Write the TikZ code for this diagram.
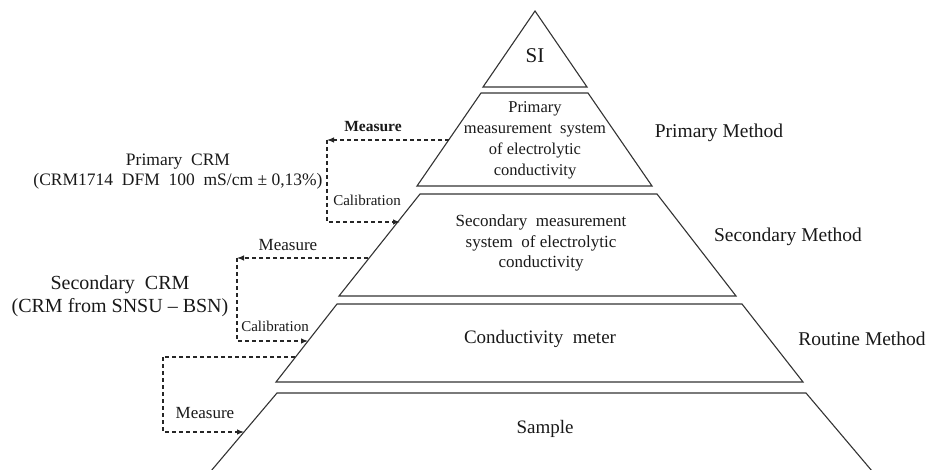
\documentclass[tikz,border=0pt]{standalone}
\usepackage{fontspec}
\setmainfont{Liberation Serif}
\usetikzlibrary{arrows.meta,calc}
\newcommand{\fs}[1]{\fontsize{#1}{#1}\selectfont}
\begin{document}
\begin{tikzpicture}[x=1pt,y=-1pt,
  edge/.style={draw=black!80, line width=1.1pt, line join=miter},
  conn/.style={draw=black!85, line width=1.1pt, dash pattern=on 4pt off 3pt},
  arr/.style={conn, -{Latex[length=7pt,width=5.5pt,fill=black!85]}},
  lbl/.style={inner sep=0pt, align=center, text=black!90},
]
\useasboundingbox (0,0) rectangle (931,470);
% --- pyramid levels ---
\coordinate (siA) at (535,11);
\coordinate (siL) at (483,87);
\coordinate (siR) at (587,87);
\draw[edge] (siA) -- (siL) -- (siR) -- cycle;

\coordinate (p1) at (481,93);  \coordinate (p2) at (588,93);
\coordinate (p3) at (652,186); \coordinate (p4) at (417,186);
\draw[edge] (p1) -- (p2) -- (p3) -- (p4) -- cycle;

\coordinate (s1) at (420,194); \coordinate (s2) at (657,194);
\coordinate (s3) at (736,296); \coordinate (s4) at (339,296);
\draw[edge] (s1) -- (s2) -- (s3) -- (s4) -- cycle;

\coordinate (r1) at (337,304); \coordinate (r2) at (742,304);
\coordinate (r3) at (803,382); \coordinate (r4) at (276,382);
\draw[edge] (r1) -- (r2) -- (r3) -- (r4) -- cycle;

\coordinate (a1) at (277,393); \coordinate (a2) at (806,393);
\coordinate (a3) at (872,471); \coordinate (a4) at (211,471);
\draw[edge] (a4) -- (a1) -- (a2) -- (a3);

% --- texts inside ---
\node[lbl] (si) at (535,56) {\fs{21}SI};
\node[lbl, font=\fs{16.5}] (prim) at (535,140) {%
  Primary\\[4.5pt] measurement\ \ system\\[4.5pt] of electrolytic\\[4.5pt] conductivity};
\node[lbl, font=\fs{17}] (sec) at (541,243) {%
  Secondary\ \ measurement\\[3.5pt] system\ \ of electrolytic\\[3.5pt] conductivity};
\node[lbl] (cm) at (540,339) {\fs{19}Conductivity\ \ meter};
\node[lbl] (sample) at (545,429) {\fs{19}Sample};

% --- right labels ---
\node[lbl] (pmeth) at (719,133) {\fs{19.5}Primary Method};
\node[lbl] (smeth) at (788,237) {\fs{19.5}Secondary Method};
\node[lbl] (rmeth) at (862,339) {\fs{19.5}Routine Method};

% --- left labels ---
\node[lbl, font=\fs{17.5}] (pcrm) at (178,172) {Primary\ \ CRM\\[2.5pt](CRM1714\ \ DFM\ \ 100\ \ mS/cm ± 0,13\%)};
\node[lbl, font=\fs{20}] (scrm) at (120,296) {Secondary\ \ CRM\\[3pt](CRM\ from\ SNSU – BSN)};

\node[lbl] (m1) at (373,127) {\fs{15.5}\bfseries Measure};
\node[lbl] (c1) at (367,200) {\fs{15}Calibration};
\node[lbl] (m2) at (288,245) {\fs{17}Measure};
\node[lbl] (c2) at (275,326) {\fs{15}Calibration};
\node[lbl] (m3) at (205,413) {\fs{17}Measure};

% --- connectors ---
\coordinate (e1) at (449,140);
\coordinate (k1) at (327,140);
\coordinate (t1) at (400,222);
\draw[arr] (e1) -- (k1);
\draw[arr] (k1) |- (t1);

\coordinate (e2) at (368,258);
\coordinate (k2) at (237,258);
\coordinate (t2) at (308,341);
\draw[arr] (e2) -- (k2);
\draw[arr] (k2) |- (t2);

\coordinate (e3) at (295,357);
\coordinate (k3) at (163,357);
\coordinate (t3) at (244,432);
\draw[conn] (e3) -- (k3);
\draw[arr] (k3) |- (t3);
\end{tikzpicture}
\end{document}
